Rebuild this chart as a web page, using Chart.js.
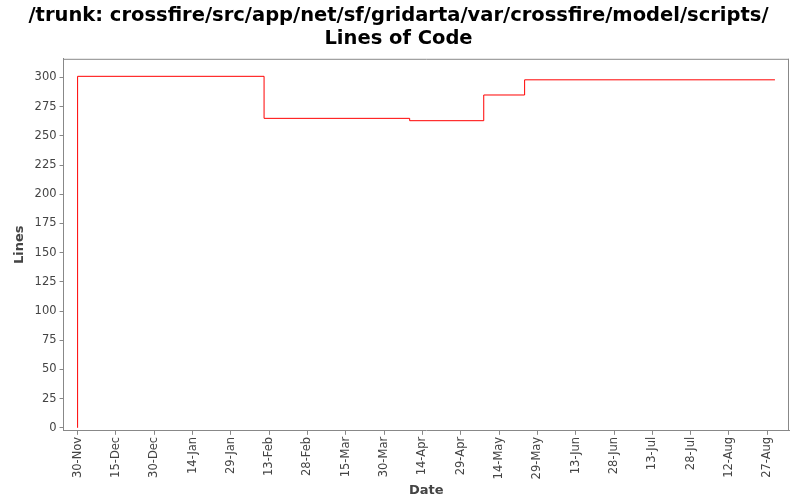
<!DOCTYPE html>
<html>
<head>
<meta charset="utf-8">
<script src="https://cdn.jsdelivr.net/npm/chart.js@4"></script>
<style>
  html, body { margin: 0; padding: 0; background: #fff; }
  #wrap { width: 800px; height: 500px; }
</style>
</head>
<body>
<div id="wrap"><canvas id="c"></canvas></div>
<script>
// days since 30-Nov and lines of code at each change
const changeDays = [0, 0, 73, 130, 159, 175, 273];
const lineCounts = [0, 301, 265, 263, 285, 298, 298];
const yTicks = [0, 25, 50, 75, 100, 125, 150, 175, 200, 225, 250, 275, 300];
const xTickDays = [0, 15, 30, 45, 60, 75, 90, 105, 120, 135, 150, 165, 180, 195, 210, 225, 240, 255, 270];

const startDate = Date.UTC(2008, 10, 30);
const months = ['Jan','Feb','Mar','Apr','May','Jun','Jul','Aug','Sep','Oct','Nov','Dec'];
function dayLabel(d) {
    const dt = new Date(startDate + d * 86400000);
    return dt.getUTCDate() + '-' + months[dt.getUTCMonth()];
}

const points = changeDays.map((d, i) => ({ x: d, y: lineCounts[i] }));
const font = { family: 'DejaVu Sans', size: 11.5 };

new Chart(document.getElementById('c'), {
    type: 'line',
    data: {
        datasets: [{
            data: points,
            stepped: 'before',
            borderColor: '#ff0000',
            borderWidth: 1,
            pointRadius: 0,
            fill: false
        }]
    },
    options: {
        responsive: true,
        maintainAspectRatio: false,
        animation: false,
        layout: { padding: { left: 8, right: 11, top: 0, bottom: 2 } },
        plugins: {
            legend: { display: false },
            tooltip: { enabled: false },
            title: {
                display: true,
                text: ['/trunk: crossfire/src/app/net/sf/gridarta/var/crossfire/model/scripts/', 'Lines of Code'],
                color: '#000',
                font: { family: 'DejaVu Sans', size: 19.5, weight: 'bold', lineHeight: 1.2 },
                padding: { top: 4, bottom: 8 }
            }
        },
        scales: {
            x: {
                type: 'linear',
                min: -5.5,
                max: 278.5,
                afterBuildTicks: axis => { axis.ticks = xTickDays.map(v => ({ value: v })); },
                ticks: {
                    callback: v => dayLabel(v),
                    maxRotation: 90, minRotation: 90,
                    autoSkip: false,
                    color: '#444', font: font, padding: 2
                },
                grid: { display: true, drawOnChartArea: false, tickLength: 4, color: '#888' },
                border: { color: '#888' },
                title: { display: true, text: 'Date', color: '#444', font: { family: 'DejaVu Sans', size: 13, weight: 'bold' }, padding: { top: 1, bottom: 0 } }
            },
            y: {
                min: -2.6,
                max: 316,
                afterBuildTicks: axis => { axis.ticks = yTicks.map(v => ({ value: v })); },
                ticks: { color: '#444', font: font, padding: 3 },
                grid: { display: true, drawOnChartArea: false, tickLength: 4, color: '#888' },
                border: { color: '#888' },
                title: { display: true, text: 'Lines', color: '#444', font: { family: 'DejaVu Sans', size: 13, weight: 'bold' } }
            }
        }
    },
    plugins: [{
        id: 'frame',
        afterDraw(chart) {
            const a = chart.chartArea, ctx = chart.ctx;
            ctx.save();
            ctx.strokeStyle = '#888';
            ctx.lineWidth = 1;
            ctx.beginPath();
            ctx.moveTo(a.left, a.top + 0.5); ctx.lineTo(a.right, a.top + 0.5);
            ctx.moveTo(a.right - 0.5, a.top); ctx.lineTo(a.right - 0.5, a.bottom);
            ctx.stroke();
            ctx.restore();
        }
    }]
});
</script>
</body>
</html>
